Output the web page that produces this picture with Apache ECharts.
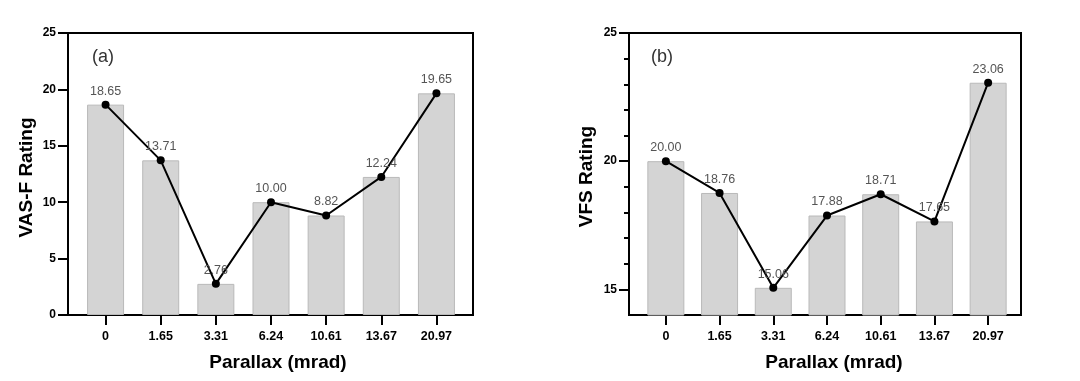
<!DOCTYPE html>
<html>
<head>
<meta charset="utf-8">
<script src="https://cdn.jsdelivr.net/npm/echarts@6/dist/echarts.min.js"></script>
<style>html,body{margin:0;padding:0;background:#fff;}#c{width:1080px;height:381px;}</style>
</head>
<body>
<div id="c"></div>
<script>
const categories = ['0', '1.65', '3.31', '6.24', '10.61', '13.67', '20.97'];
const vasF = [18.65, 13.71, 2.76, 10.00, 8.82, 12.24, 19.65];
const vfs = [20.00, 18.76, 15.06, 17.88, 18.71, 17.65, 23.06];
const yTicksA = [0, 5, 10, 15, 20, 25];
const yTicksB = [15, 20, 25];
const yMinorB = [16, 17, 18, 19, 21, 22, 23, 24];

const FONT = '"Liberation Sans", Arial, sans-serif';
const chart = echarts.init(document.getElementById('c'), null, {renderer: 'canvas'});

function frameX(grid) {
  return {gridIndex: grid, type: 'value', min: 0, max: 1, position: 'bottom',
    axisLine: {show: true, onZero: false, lineStyle: {color: '#000', width: 2}},
    axisTick: {show: false}, axisLabel: {show: false}, splitLine: {show: false}};
}
function dataX(grid) {
  return {gridIndex: grid, type: 'category', data: categories, boundaryGap: true,
    axisLine: {show: false},
    axisTick: {show: true, alignWithLabel: true, length: 10, lineStyle: {color: '#000', width: 2}},
    axisLabel: {color: '#000', fontWeight: 'bold', fontSize: 12.5, fontFamily: FONT, margin: 15},
    name: 'Parallax (mrad)', nameLocation: 'middle', nameGap: 38,
    nameTextStyle: {color: '#000', fontWeight: 'bold', fontSize: 19, fontFamily: FONT, padding: [0, 0, 0, 14]}};
}
function hiddenY(grid, min, max) {
  return {gridIndex: grid, type: 'value', min: min, max: max, show: false, splitLine: {show: false}};
}
const labelStyle = {show: true, position: 'top', distance: 3, color: '#555', fontSize: 12.5, fontFamily: FONT,
  formatter: p => Number(p.value).toFixed(2)};

const option = {
  animation: false,
  backgroundColor: '#fff',
  title: [
    {text: '(a)', left: 87, top: 43, textStyle: {fontSize: 18, fontWeight: 'normal', color: '#333', fontFamily: FONT}},
    {text: '(b)', left: 646, top: 43, textStyle: {fontSize: 18, fontWeight: 'normal', color: '#333', fontFamily: FONT}}
  ],
  grid: [
    {left: 68, top: 33, width: 405, height: 282, show: true, borderColor: '#000', borderWidth: 2, backgroundColor: 'transparent'},
    {left: 78, top: 33, width: 386, height: 282},
    {left: 629, top: 33, width: 392, height: 282, show: true, borderColor: '#000', borderWidth: 2, backgroundColor: 'transparent'},
    {left: 639, top: 33, width: 376, height: 282}
  ],
  xAxis: [frameX(0), dataX(1), frameX(2), dataX(3)],
  yAxis: [
    {gridIndex: 0, type: 'value', position: 'left', min: 0, max: 25, interval: 5,
      axisLine: {show: true, lineStyle: {color: '#000', width: 2}},
      axisTick: {show: true, length: 10, lineStyle: {color: '#000', width: 2}},
      axisLabel: {color: '#000', fontWeight: 'bold', fontSize: 12, fontFamily: FONT, margin: 12,
        customValues: yTicksA},
      splitLine: {show: false},
      name: 'VAS-F Rating', nameLocation: 'middle', nameGap: 32,
      nameTextStyle: {color: '#000', fontWeight: 'bold', fontSize: 19, fontFamily: FONT, padding: [0, 7, 0, 0]}},
    hiddenY(1, 0, 25),
    {gridIndex: 2, type: 'value', position: 'left', min: 14, max: 25,
      axisLine: {show: true, lineStyle: {color: '#000', width: 2}},
      axisTick: {show: true, length: 10, customValues: yTicksB, lineStyle: {color: '#000', width: 2}},
      axisLabel: {color: '#000', fontWeight: 'bold', fontSize: 12, fontFamily: FONT, margin: 12, customValues: yTicksB},
      splitLine: {show: false},
      name: 'VFS Rating', nameLocation: 'middle', nameGap: 33,
      nameTextStyle: {color: '#000', fontWeight: 'bold', fontSize: 19, fontFamily: FONT, padding: [0, 5, 0, 0]}},
    {gridIndex: 2, type: 'value', position: 'left', offset: 0, min: 14, max: 25,
      axisLine: {show: false},
      axisTick: {show: true, length: 5, customValues: yMinorB, lineStyle: {color: '#000', width: 2}},
      axisLabel: {show: false}, splitLine: {show: false}},
    hiddenY(3, 14, 25)
  ],
  series: [
    {type: 'bar', xAxisIndex: 1, yAxisIndex: 1, data: vasF, barWidth: 37,
      itemStyle: {color: '#d4d4d4', borderColor: '#b9b9b9', borderWidth: 1}},
    {type: 'line', xAxisIndex: 1, yAxisIndex: 1, data: vasF, symbol: 'circle', symbolSize: 8,
      lineStyle: {color: '#000', width: 2}, itemStyle: {color: '#000'}, label: labelStyle, z: 5},
    {type: 'bar', xAxisIndex: 3, yAxisIndex: 4, data: vfs, barWidth: 37,
      itemStyle: {color: '#d4d4d4', borderColor: '#b9b9b9', borderWidth: 1}},
    {type: 'line', xAxisIndex: 3, yAxisIndex: 4, data: vfs, symbol: 'circle', symbolSize: 8,
      lineStyle: {color: '#000', width: 2}, itemStyle: {color: '#000'}, label: labelStyle, z: 5}
  ]
};
chart.setOption(option);
</script>
</body>
</html>
